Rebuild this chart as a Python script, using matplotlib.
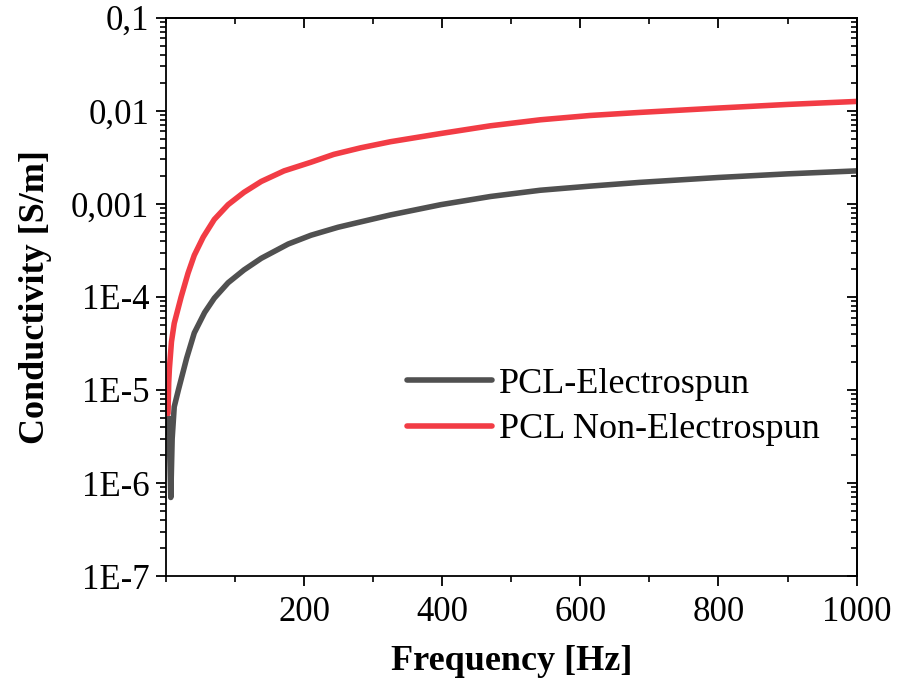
import matplotlib
matplotlib.use('Agg')
import matplotlib.pyplot as plt
import numpy as np
from matplotlib.ticker import FixedLocator, FixedFormatter, LogLocator, MultipleLocator, NullFormatter

plt.rcParams['font.family'] = ['Liberation Serif', 'DejaVu Serif']

# PCL electrospun (grey curve)
freq_es = [2, 4, 6, 7, 9, 12, 18, 22, 30, 41, 56, 70, 90, 113, 138, 177, 210,
           249, 282, 325, 398, 470, 542, 614, 686, 800, 900, 1000]
cond_es = [3.5e-6, 5e-6, 1.5e-6, 7e-7, 3e-6, 6.6e-6, 1e-5, 1.3e-5, 2.2e-5, 4.1e-5,
           6.8e-5, 9.7e-5, 1.42e-4, 1.95e-4, 2.6e-4, 3.7e-4, 4.6e-4, 5.6e-4, 6.4e-4,
           7.6e-4, 9.8e-4, 1.2e-3, 1.40e-3, 1.55e-3, 1.70e-3, 1.92e-3, 2.1e-3,
           2.26e-3]

# PCL non-electrospun (red curve)
freq_nes = [3, 4, 5, 8, 12, 22, 32, 41, 54, 70, 90, 113, 138, 171, 210, 243, 282,
            325, 398, 470, 542, 614, 686, 800, 900, 1000]
cond_nes = [5.6e-6, 1.2e-5, 1.7e-5, 3.3e-5, 5.2e-5, 1.0e-4, 1.8e-4, 2.8e-4, 4.4e-4,
            6.8e-4, 9.8e-4, 1.33e-3, 1.74e-3, 2.26e-3, 2.8e-3, 3.4e-3, 4.0e-3, 4.65e-3,
            5.7e-3, 6.9e-3, 8.0e-3, 8.9e-3, 9.6e-3, 1.07e-2, 1.17e-2, 1.26e-2]

y_ticks = [1e-7, 1e-6, 1e-5, 1e-4, 1e-3, 1e-2, 1e-1]
y_labels = ['1E-7', '1E-6', '1E-5', '1E-4', '0,001', '0,01', '0,1']
x_ticks = [200, 400, 600, 800, 1000]

fig = plt.figure(figsize=(8.97, 6.81), dpi=100)
ax = fig.add_axes([0.185, 0.154, 0.770, 0.820])

ax.plot(freq_es, cond_es, color='#505050', lw=4, label='PCL-Electrospun',
        solid_capstyle='round', solid_joinstyle='round')
ax.plot(freq_nes, cond_nes, color='#f23c45', lw=4, label='PCL Non-Electrospun',
        solid_capstyle='round', solid_joinstyle='round')

ax.set_yscale('log')
ax.set_xlim(0, 1000)
ax.set_ylim(1e-7, 0.1)

ax.xaxis.set_major_locator(FixedLocator(x_ticks))
ax.xaxis.set_minor_locator(MultipleLocator(100))
ax.yaxis.set_major_locator(FixedLocator(y_ticks))
ax.yaxis.set_major_formatter(FixedFormatter(y_labels))
ax.yaxis.set_minor_locator(LogLocator(base=10, subs=np.arange(2, 10)))
ax.yaxis.set_minor_formatter(NullFormatter())

ax.tick_params(which='major', direction='out', length=7, width=1.3, labelsize=25)
ax.tick_params(which='minor', direction='out', length=4, width=1.2)
ax.tick_params(axis='y', which='major', pad=5)
ax.tick_params(axis='x', which='major', pad=7)
for s in ax.spines.values():
    s.set_linewidth(1.3)

top = ax.secondary_xaxis('top')
top.xaxis.set_major_locator(FixedLocator(x_ticks))
top.xaxis.set_minor_locator(MultipleLocator(100))
top.tick_params(which='major', direction='in', length=7, width=1.3, labeltop=False)
top.tick_params(which='minor', direction='in', length=4, width=1.2)
top.spines['top'].set_linewidth(1.3)

right = ax.secondary_yaxis('right')
right.yaxis.set_major_locator(FixedLocator(y_ticks))
right.yaxis.set_minor_locator(LogLocator(base=10, subs=np.arange(2, 10)))
right.yaxis.set_minor_formatter(NullFormatter())
right.tick_params(which='major', direction='in', length=7, width=1.3, labelright=False)
right.tick_params(which='minor', direction='in', length=4, width=1.2)
right.spines['right'].set_linewidth(1.3)

ax.set_xlabel('Frequency [Hz]', fontsize=26, fontweight='bold', labelpad=12)
ax.set_ylabel('Conductivity [S/m]', fontsize=26, fontweight='bold', labelpad=14)

ax.legend(loc='upper left', bbox_to_anchor=(0.349, 0.374), frameon=False,
          fontsize=26, handlelength=2.35, handletextpad=0.2, labelspacing=0.35,
          borderpad=0, borderaxespad=0)

fig.savefig('out.png', dpi=100)
